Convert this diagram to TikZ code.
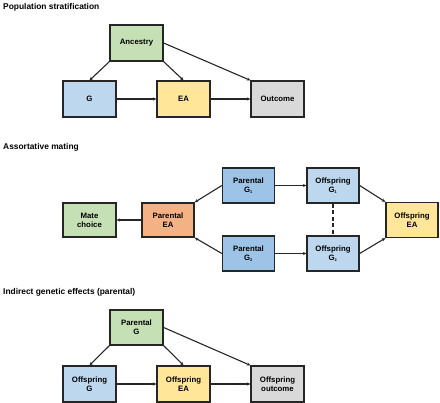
\documentclass[tikz,border=0pt]{standalone}
\usepackage{fontspec}
\setmainfont{Liberation Sans}
\usepackage{xcolor}
\usetikzlibrary{positioning,arrows.meta}
\definecolor{ancgreen}{HTML}{C5E0B4}
\definecolor{gblue}{HTML}{BDD7EE}
\definecolor{pblue}{HTML}{9DC3E6}
\definecolor{eayellow}{HTML}{FFE699}
\definecolor{outgrey}{HTML}{D9D9D9}
\definecolor{peorange}{HTML}{F4B183}
\definecolor{edge}{HTML}{262626}
\tikzset{
  box/.style={draw=edge,line width=1.3pt,align=center,font=\fontsize{7.8}{9}\selectfont\bfseries,
    minimum width=53pt,minimum height=36pt,inner sep=1pt},
  title/.style={anchor=west,font=\fontsize{8.4}{10}\selectfont\bfseries,inner sep=0pt},
  ar/.style={-{Stealth[length=3.5pt,width=3.2pt]},line width=1.1pt,edge},
  ln/.style={line width=1.1pt,edge},
}
\begin{document}
\begin{tikzpicture}[x=1pt,y=-1pt]
  \useasboundingbox (0,0) rectangle (440,403);
  % population stratification
  \node[title] (t1) at (3,7) {Population stratification};
  \node[box,fill=ancgreen] (anc) at (136.5,43) {Ancestry};
  \node[box,fill=gblue] (g) at (89.5,99) {G};
  \node[box,fill=eayellow] (ea) at (183.5,99) {EA};
  \node[box,fill=outgrey] (out) at (277.5,99) {Outcome};
  \draw[ar] (anc.south west) -- (g.north);
  \draw[ar] (anc.south east) -- (ea.north);
  \draw[ar] (anc.east) -- (out.north west);
  \draw[ar] (g) -- (ea);
  \draw[ar] (ea) -- (out);
  % assortative mating
  \node[title] (t2) at (3,147) {Assortative mating};
  \node[box,fill=ancgreen,minimum height=34pt] (mate) at (89.5,220) {Mate\\choice};
  \node[box,fill=peorange,minimum height=34pt,minimum width=52pt] (pea) at (168,220) {Parental\\EA};
  \node[box,fill=pblue,minimum height=35pt,minimum width=52pt] (pg1) at (248.5,185.5) {Parental\\G$_{\scriptscriptstyle\mathbf{1}}$};
  \node[box,fill=pblue,minimum height=35pt,minimum width=52pt] (pg2) at (248.5,253.5) {Parental\\G$_{\scriptscriptstyle\mathbf{2}}$};
  \node[box,fill=gblue,minimum height=35pt,minimum width=52pt] (og1) at (333,185.5) {Offspring\\G$_{\scriptscriptstyle\mathbf{1}}$};
  \node[box,fill=gblue,minimum height=35pt,minimum width=52pt] (og2) at (333,253.5) {Offspring\\G$_{\scriptscriptstyle\mathbf{2}}$};
  \node[box,fill=eayellow,minimum height=35pt,minimum width=52pt] (oea) at (412,220) {Offspring\\EA};
  \draw[ar] (pea) -- (mate);
  \draw[ar] (pg1.west) -- (pea.north east);
  \draw[ar] (pg2.west) -- (pea.south east);
  \draw[ar] (pg1) -- (og1);
  \draw[ar] (pg2) -- (og2);
  \draw[ar] (og1.east) -- (oea.north west);
  \draw[ar] (og2.east) -- (oea.south west);
  \draw[ln,dash pattern=on 4pt off 2.5pt] (og1) -- (og2);
  % indirect genetic effects
  \node[title] (t3) at (3,292) {Indirect genetic effects (parental)};
  \node[box,fill=ancgreen,minimum height=35pt] (pgp) at (136.5,327.5) {Parental\\G};
  \node[box,fill=gblue] (og) at (89.5,384) {Offspring\\G};
  \node[box,fill=eayellow] (oeap) at (183.5,384) {Offspring\\EA};
  \node[box,fill=outgrey] (oout) at (277.5,384) {Offspring\\outcome};
  \draw[ar] (pgp.south west) -- (og.north);
  \draw[ar] (pgp.south east) -- (oeap.north);
  \draw[ar] (pgp.east) -- (oout.north west);
  \draw[ar] (og) -- (oeap);
  \draw[ar] (oeap) -- (oout);
\end{tikzpicture}
\end{document}
